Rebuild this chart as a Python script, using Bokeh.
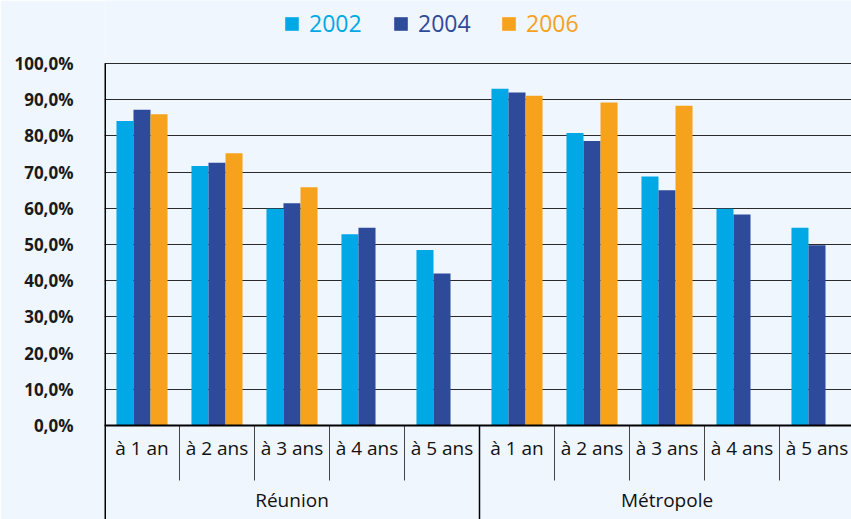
from bokeh.plotting import figure
from bokeh.models import Range1d, FixedTicker, Span, Legend, LegendItem
from bokeh.core.properties import value
from bokeh.embed import file_html
from bokeh.resources import INLINE

# ---------------- data ----------------
groups = ["Réunion", "Métropole"]
periods = ["à 1 an", "à 2 ans", "à 3 ans", "à 4 ans", "à 5 ans"]
series_names = ["2002", "2004", "2006"]
val_2002 = [84.1, 71.7, 59.9, 52.8, 48.5, 93.0, 80.8, 68.8, 59.9, 54.6]
val_2004 = [87.2, 72.6, 61.4, 54.6, 42.0, 92.0, 78.6, 65.0, 58.3, 49.8]
val_2006 = [86.0, 75.2, 65.8, None, None, 91.1, 89.2, 88.3, None, None]
y_ticks = [0, 10, 20, 30, 40, 50, 60, 70, 80, 90, 100]

# ---------------- style ----------------
BG = "#EFF6FE"
colors = ["#00A8E6", "#2E4A9B", "#F6A21C"]
FONT = "Open Sans"

cats = [(g, per) for g in groups for per in periods]
n = len(cats)
n_per = len(periods)
centers = [i + 0.5 for i in range(n)]
bw = 0.227

p = figure(width=851, height=519, output_backend="svg", toolbar_location=None,
           x_range=Range1d(0, 9.96), y_range=Range1d(-25.97, 117.4),
           x_axis_location=None,
           min_border_left=104, min_border_right=0, min_border_top=0, min_border_bottom=0,
           background_fill_color=BG, border_fill_color=BG, outline_line_color=None)

renderers = []
for k, vals in enumerate([val_2002, val_2004, val_2006]):
    xs = [c + (k - 1) * bw for c, v in zip(centers, vals) if v is not None]
    tops = [v for v in vals if v is not None]
    r = p.vbar(x=xs, top=tops, bottom=0, width=bw, fill_color=colors[k], line_color=None)
    renderers.append(r)

# y axis
yax = p.yaxis[0]
yax.ticker = FixedTicker(ticks=y_ticks)
yax.major_label_overrides = {t: f"{t},0%" for t in y_ticks}
yax.major_label_text_font = FONT
yax.major_label_text_font_style = "bold"
yax.major_label_text_font_size = "17px"
yax.major_label_text_color = "#1a1a1a"
yax.axis_line_color = None
yax.major_tick_line_color = None
yax.minor_tick_line_color = None
yax.major_tick_out = 0
yax.major_tick_in = 0
yax.major_label_standoff = 31

p.ygrid.grid_line_color = "#2a2a2a"
p.ygrid.grid_line_width = 1
p.xgrid.grid_line_color = None

ybot = p.y_range.start
# vertical axis line
p.segment(x0=[0], y0=[100], x1=[0], y1=[ybot], line_color="black", line_width=3)
# separators between periods
sep = [i for i in range(1, n) if i % n_per != 0]
p.segment(x0=sep, y0=[0] * len(sep), x1=sep, y1=[-15.2] * len(sep), line_color="#444444", line_width=1)
# separators between groups
gsep = [i for i in range(n_per, n, n_per)]
p.segment(x0=gsep, y0=[0] * len(gsep), x1=gsep, y1=[ybot] * len(gsep), line_color="black", line_width=1.5)
p.add_layout(Span(location=0, dimension="width", line_color="black", line_width=2))

# category labels
p.text(x=centers, y=[-6.2] * n, text=[c[1] for c in cats], text_font=value(FONT),
       text_font_size="19px", text_align="center", text_baseline="middle", text_color="#111111")
gx = [gi * n_per + n_per / 2 for gi in range(len(groups))]
p.text(x=gx, y=[-20.7] * len(groups), text=groups, text_font=value(FONT),
       text_font_size="19px", text_align="center", text_baseline="middle", text_color="#111111")

# legends (one per series so that each label takes its series colour)
leg_x = [179, 288, 396]
for k, name in enumerate(series_names):
    leg = Legend(items=[LegendItem(label=name, renderers=[renderers[k]])],
                 location=(leg_x[k], 480), orientation="horizontal",
                 glyph_width=17, glyph_height=17, label_standoff=9,
                 padding=0, margin=0, spacing=0,
                 border_line_color=None, background_fill_alpha=0,
                 label_text_color=colors[k], label_text_font=FONT,
                 label_text_font_size="23px")
    p.add_layout(leg)

open("out.html", "w").write(file_html(p, INLINE))
